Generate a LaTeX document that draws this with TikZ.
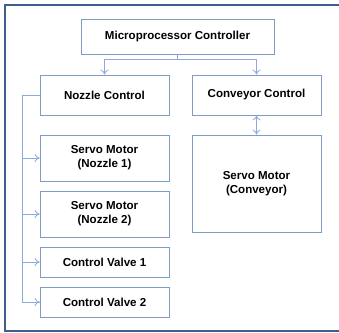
\documentclass[tikz,border=0pt]{standalone}
\usepackage{fontspec}
\setmainfont{Liberation Sans}
\usetikzlibrary{arrows.meta}
\begin{document}
\begin{tikzpicture}[x=1bp,y=-1bp,
  blk/.style={draw=boxblue,line width=0.8bp,fill=white,inner sep=0pt,
    font=\bfseries\fontsize{11.6}{14}\selectfont,align=center},
  link/.style={draw=linkblue,line width=0.8bp},
  tip/.style={-{To[length=5bp,width=8bp]}},
  dtip/.style={{To[length=5bp,width=8bp]}-{To[length=5bp,width=8bp]}}]
\definecolor{boxblue}{HTML}{7F9CC4}
\definecolor{linkblue}{HTML}{8EAADB}
\definecolor{frameblue}{HTML}{3F5F8F}
\useasboundingbox (0,0) rectangle (339,333);
\fill[white] (0,0) rectangle (339,333);
% outer frame, open on the right
\draw[frameblue,line width=2bp] (339,5) -- (5,5) -- (5,331) -- (339,331);
% blocks
\node[blk,minimum width=193bp,minimum height=35bp] (mc) at (177.5,36.5) {Microprocessor Controller};
\node[blk,minimum width=129bp,minimum height=40bp] (nc) at (104.5,95) {Nozzle Control};
\node[blk,minimum width=129bp,minimum height=40bp] (cc) at (256.5,95) {Conveyor Control};
\node[blk,minimum width=129bp,minimum height=46bp] (s1) at (104.5,158) {Servo Motor\\(Nozzle 1)};
\node[blk,minimum width=129bp,minimum height=46bp] (s2) at (104.5,214) {Servo Motor\\(Nozzle 2)};
\node[blk,minimum width=129bp,minimum height=97bp] (sc) at (256.5,183.5) {Servo Motor\\(Conveyor)};
\node[blk,minimum width=129bp,minimum height=30bp] (v1) at (104.5,262) {Control Valve 1};
\node[blk,minimum width=129bp,minimum height=30bp] (v2) at (104.5,302) {Control Valve 2};
% controller to the two control blocks
\coordinate (split) at (177.5,59);
\draw[link] (mc.south) -- (split);
\draw[link,tip] (split) -| (nc.north);
\draw[link,tip] (split) -| (cc.north);
% conveyor control <-> conveyor servo
\draw[link,dtip] (cc.south) -- (sc.north);
% nozzle control bus on the left
\coordinate (bus) at (22,95);
\draw[link] (nc.west) -- (bus) |- (v2.west);
\draw[link,tip] (bus |- s1.west) -- (s1.west);
\draw[link,tip] (bus |- s2.west) -- (s2.west);
\draw[link,tip] (bus |- v1.west) -- (v1.west);
\draw[link,tip] (bus |- v2.west) -- (v2.west);
\end{tikzpicture}
\end{document}
